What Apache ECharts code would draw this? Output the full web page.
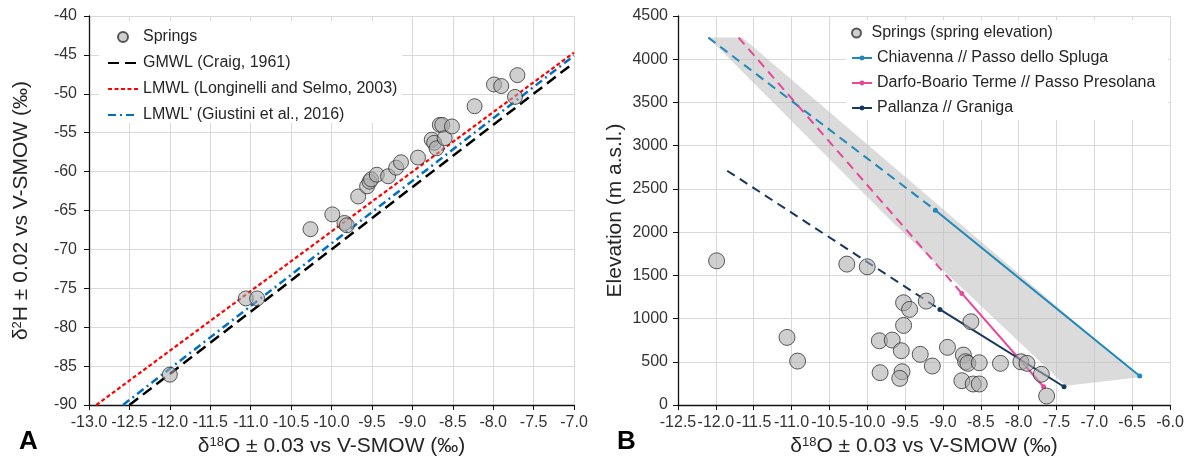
<!DOCTYPE html>
<html><head><meta charset="utf-8">
<script src="https://cdn.jsdelivr.net/npm/echarts@6/dist/echarts.min.js"></script>
<style>html,body{margin:0;padding:0;background:#fff}#c{width:1189px;height:462px}</style>
</head><body><div id="c"></div>
<script>
const FONT = "'Liberation Sans', Arial, sans-serif";

// ---------- Panel A : δ18O vs δ2H ----------
const springsA_d18O = [-12.0, -11.06, -10.92, -10.26, -9.99, -9.84, -9.81, -9.67, -9.56, -9.53, -9.51, -9.44, -9.30, -9.20, -9.14, -8.93, -8.76, -8.73, -8.70, -8.66, -8.63, -8.60, -8.51, -8.23, -7.99, -7.90, -7.70, -7.73];
const springsA_d2H  = [-86.1, -76.3, -76.3, -67.4, -65.5, -66.6, -66.9, -63.2, -61.9, -61.3, -61.0, -60.4, -60.6, -59.5, -58.8, -58.2, -55.9, -56.3, -57.0, -54.0, -54.0, -55.7, -54.2, -51.6, -48.8, -49.0, -47.6, -50.4];
const gmwlX  = [-12.5, -7.0];  const gmwlY  = [-90, -46.0];
const lmwlX  = [-12.91, -7.0]; const lmwlY  = [-90, -44.7];
const lmwl2X = [-12.58, -7.0]; const lmwl2Y = [-90, -45.1];

// ---------- Panel B : δ18O vs elevation ----------
const springsB_d18O = [-11.99, -11.06, -10.92, -10.27, -10.0, -9.84, -9.67, -9.83, -9.52, -9.44, -9.52, -9.55, -9.54, -9.57, -9.30, -9.22, -9.14, -8.94, -8.73, -8.70, -8.67, -8.75, -8.60, -8.52, -8.63, -8.52, -8.24, -7.97, -7.89, -7.70, -7.63];
const springsB_elev = [1668, 782, 508, 1630, 1599, 743, 751, 374, 1183, 1106, 921, 628, 385, 308, 586, 1202, 451, 667, 578, 501, 482, 281, 243, 489, 963, 243, 482, 500, 482, 355, 104];
const chiavX = [-9.1, -6.4];    const chiavY = [2254, 335];
const chiavExtX = [-12.1, -9.1]; const chiavExtY = [4250, 2254];
const darfoX = [-8.75, -7.67];  const darfoY = [1291, 211];
const darfoExtX = [-11.70, -8.75]; const darfoExtY = [4250, 1291];
const pallX = [-9.04, -7.40];   const pallY = [1106, 211];
const pallExtX = [-11.85, -9.04]; const pallExtY = [2710, 1106];
const bandX = [-12.1, -11.65, -6.4, -7.38, -9.65];
const bandY = [4250, 4250, 320, 222, 2100];

const zip = (a, b) => a.map((v, i) => [v, b[i]]);

const C_CHIAV = '#1f88b8', C_DARFO = '#e8489a', C_PALL = '#17375e';
const ptStyle = { color: 'rgba(172,172,172,0.72)', borderColor: '#333', borderWidth: 1 };

function xAxisCfg(grid, min, max) {
  return {
    type: 'value', gridIndex: grid, min: min, max: max, interval: 0.5,
    axisLine: { show: true, onZero: false, lineStyle: { color: '#111', width: 1.3 } },
    axisTick: { show: true, inside: false, length: 5, lineStyle: { color: '#111' } },
    axisLabel: { formatter: v => v.toFixed(1), fontSize: 16, color: '#333', margin: 10, fontFamily: FONT, showMinLabel: true, showMaxLabel: true, hideOverlap: false },
    splitLine: { show: true, lineStyle: { color: '#d9d9d9', width: 1 } },
    name: '{t|δ}{s|18}{t|O ± 0.03 vs V-SMOW (‰)}', nameLocation: 'middle', nameGap: 26,
    nameTextStyle: { rich: { t: { fontSize: 21, color: '#262626', fontFamily: FONT }, s: { fontSize: 13, color: '#262626', fontFamily: FONT, verticalAlign: 'top' } } }
  };
}
function yAxisCfg(grid, min, max, interval, name, gap, margin) {
  return {
    type: 'value', gridIndex: grid, min: min, max: max, interval: interval,
    axisLine: { show: true, onZero: false, lineStyle: { color: '#111', width: 1.3 } },
    axisTick: { show: true, inside: false, length: 5, lineStyle: { color: '#111' } },
    axisLabel: { formatter: v => String(v), fontSize: 16, color: '#333', margin: margin, fontFamily: FONT, showMinLabel: true, showMaxLabel: true },
    splitLine: { show: true, lineStyle: { color: '#d9d9d9', width: 1 } },
    name: name, nameLocation: 'middle', nameGap: gap, nameRotate: 90,
    nameTextStyle: { rich: { t: { fontSize: 21, color: '#262626', fontFamily: FONT }, s: { fontSize: 13, color: '#262626', fontFamily: FONT, verticalAlign: 'top' } } }
  };
}

const chart = echarts.init(document.getElementById('c'), null, { renderer: 'canvas' });
chart.setOption({
  animation: false,
  backgroundColor: '#fff',
  textStyle: { fontFamily: FONT },
  grid: [
    { left: 89, top: 16, width: 485, height: 389 },
    { left: 678, top: 16, width: 492, height: 389 }
  ],
  xAxis: [xAxisCfg(0, -13, -7), xAxisCfg(1, -12.5, -6)],
  yAxis: [
    yAxisCfg(0, -90, -40, 5, '{t|δ}{s|2}{t|H ± 0.02 vs V-SMOW (‰)}', 57, 12),
    yAxisCfg(1, 0, 4500, 500, '{t|Elevation (m a.s.l.)}', 52, 10)
  ],
  graphic: [
    { type: 'rect', z: 1, shape: { x: 99, y: 21, width: 303, height: 102 }, style: { fill: '#fff' } },
    { type: 'rect', z: 1, shape: { x: 846, y: 20, width: 322, height: 100 }, style: { fill: '#fff' } },
    { type: 'text', z: 10, left: 19, top: 429, style: { text: 'A', font: 'bold 26px ' + FONT, fill: '#000' } },
    { type: 'text', z: 10, left: 617, top: 429, style: { text: 'B', font: 'bold 26px ' + FONT, fill: '#000' } }
  ],
  legend: [
    {
      orient: 'vertical', left: 107, top: 29, padding: 0, itemWidth: 30, itemHeight: 10, itemGap: 10,
      textStyle: { fontSize: 16, color: '#262626', fontFamily: FONT },
      data: [
        { name: 'Springs' },
        { name: 'GMWL (Craig, 1961)', itemStyle: { opacity: 0 } },
        { name: 'LMWL (Longinelli and Selmo, 2003)', itemStyle: { opacity: 0 } },
        { name: "LMWL' (Giustini et al., 2016)", itemStyle: { opacity: 0 } }
      ]
    },
    {
      orient: 'vertical', left: 851, top: 25, padding: 0, itemWidth: 20, itemHeight: 9,
      textStyle: { fontSize: 16, color: '#262626', fontFamily: FONT },
      data: ['Springs (spring elevation)']
    },
    {
      orient: 'vertical', left: 851, top: 50, padding: 0, itemWidth: 20, itemHeight: 6, itemGap: 9,
      textStyle: { fontSize: 16, color: '#262626', fontFamily: FONT },
      data: ['Chiavenna // Passo dello Spluga', 'Darfo-Boario Terme // Passo Presolana', 'Pallanza // Graniga']
    }
  ],
  series: [
    // Panel A
    { name: 'GMWL (Craig, 1961)', type: 'line', xAxisIndex: 0, yAxisIndex: 0, data: zip(gmwlX, gmwlY), symbol: 'none', z: 2,
      lineStyle: { color: '#000', width: 2.5, type: [11, 6] }, itemStyle: { color: '#000' } },
    { name: 'LMWL (Longinelli and Selmo, 2003)', type: 'line', xAxisIndex: 0, yAxisIndex: 0, data: zip(lmwlX, lmwlY), symbol: 'none', z: 2,
      lineStyle: { color: '#ff0000', width: 2.2, type: [4, 2.5] }, itemStyle: { color: '#ff0000' } },
    { name: "LMWL' (Giustini et al., 2016)", type: 'line', xAxisIndex: 0, yAxisIndex: 0, data: zip(lmwl2X, lmwl2Y), symbol: 'none', z: 2,
      lineStyle: { color: '#0070c0', width: 2.5, type: [8, 4, 2, 4] }, itemStyle: { color: '#0070c0' } },
    { name: 'Springs', type: 'scatter', xAxisIndex: 0, yAxisIndex: 0, data: zip(springsA_d18O, springsA_d2H),
      symbol: 'circle', symbolSize: 15, itemStyle: ptStyle, z: 3 },
    // Panel B
    { name: 'band', type: 'custom', xAxisIndex: 1, yAxisIndex: 1, z: 1.5, silent: true,
      data: [[bandX[0], bandY[0]]],
      renderItem: function (params, api) {
        const pts = bandX.map((x, i) => api.coord([x, bandY[i]]));
        return { type: 'polygon', shape: { points: pts }, style: { fill: 'rgba(190,190,190,0.55)' } };
      }
    },
    { name: 'chiavExt', type: 'line', xAxisIndex: 1, yAxisIndex: 1, data: zip(chiavExtX, chiavExtY), symbol: 'none', z: 2,
      lineStyle: { color: C_CHIAV, width: 2, type: [9, 6] } },
    { name: 'darfoExt', type: 'line', xAxisIndex: 1, yAxisIndex: 1, data: zip(darfoExtX, darfoExtY), symbol: 'none', z: 2,
      lineStyle: { color: C_DARFO, width: 2, type: [9, 6] } },
    { name: 'pallExt', type: 'line', xAxisIndex: 1, yAxisIndex: 1, data: zip(pallExtX, pallExtY), symbol: 'none', z: 2,
      lineStyle: { color: C_PALL, width: 2, type: [9, 6] } },
    { name: 'Chiavenna // Passo dello Spluga', type: 'line', xAxisIndex: 1, yAxisIndex: 1, data: zip(chiavX, chiavY),
      symbol: 'circle', symbolSize: 5, z: 2, lineStyle: { color: C_CHIAV, width: 2 }, itemStyle: { color: C_CHIAV } },
    { name: 'Darfo-Boario Terme // Passo Presolana', type: 'line', xAxisIndex: 1, yAxisIndex: 1, data: zip(darfoX, darfoY),
      symbol: 'circle', symbolSize: 5, z: 2, lineStyle: { color: C_DARFO, width: 2 }, itemStyle: { color: C_DARFO } },
    { name: 'Pallanza // Graniga', type: 'line', xAxisIndex: 1, yAxisIndex: 1, data: zip(pallX, pallY),
      symbol: 'circle', symbolSize: 5, z: 2, lineStyle: { color: C_PALL, width: 2 }, itemStyle: { color: C_PALL } },
    { name: 'Springs (spring elevation)', type: 'scatter', xAxisIndex: 1, yAxisIndex: 1, data: zip(springsB_d18O, springsB_elev),
      symbol: 'circle', symbolSize: 16, itemStyle: ptStyle, z: 3 }
  ]
});
</script>
</body></html>
